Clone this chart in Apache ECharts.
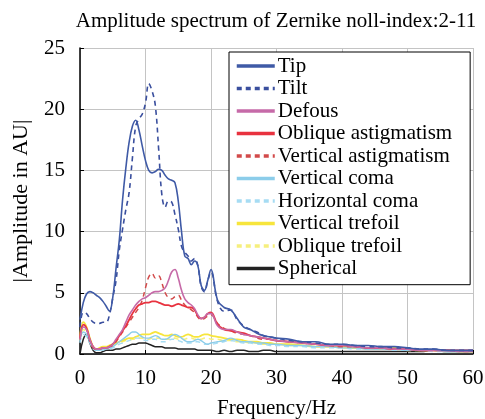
<!DOCTYPE html>
<html>
<head>
<meta charset="utf-8">
<script src="https://cdn.jsdelivr.net/npm/echarts@6/dist/echarts.min.js"></script>
<style>
html,body{margin:0;padding:0;background:#fff;}
#chart{width:485px;height:419px;}
</style>
</head>
<body>
<div id="chart"></div>
<script>
// 频率轴 (Hz)
var freq = [0,0.5,1,1.5,2,2.5,3,3.5,4,4.5,5,5.5,6,6.5,7,7.5,8,8.5,9,9.5,10,10.5,11,11.5,12,12.5,13,13.5,14,14.5,15,15.5,16,16.5,17,17.5,18,18.5,19,19.5,20,
	21,22,23,24,25,26,27,28,29,30,
	32,34,36,38,40,42,44,46,48,50,52,54,56,58,60];

var tip = [2.8,4.2,4.9,5.1,5.0,4.8,4.6,4.3,3.9,3.5,4.6,7.0,9.3,12.6,15.2,17.3,18.6,19.1,18.3,17.0,15.8,15.0,14.8,14.9,15.1,15.0,14.6,14.3,14.2,14.0,12.5,10.0,8.0,7.8,7.3,7.6,7.2,5.6,5.2,6.0,6.9,
	4.4,3.8,3.6,2.9,2.2,2.0,1.7,1.5,1.4,1.3,
	1.2,1.0,1.0,0.8,0.8,0.7,0.7,0.6,0.6,0.5,0.4,0.4,0.3,0.3,0.3];
var tilt = [2.2,3.4,3.3,2.9,2.6,2.5,2.5,2.6,2.6,3.2,4.6,6.0,8.5,10.2,11.8,13.2,16.0,18.6,19.2,19.6,20.5,22.1,21.5,20.3,16.8,13.0,12.0,12.5,12.4,11.4,10.2,8.8,8.3,8.0,7.6,7.8,7.2,5.5,5.1,6.0,6.7,
	4.3,3.5,3.6,2.8,2.3,2.0,1.8,1.5,1.4,1.3,
	1.1,1.0,0.9,0.8,0.8,0.7,0.6,0.6,0.5,0.5,0.4,0.4,0.3,0.3,0.3];
var defous = [1.2,2.2,2.0,1.2,0.6,0.4,0.4,0.5,0.5,0.6,0.8,1.2,1.6,2.0,2.6,3.2,3.6,4.0,4.3,4.5,4.6,4.8,5.0,5.1,5.1,5.2,5.4,6.0,6.7,6.9,6.2,5.2,4.5,4.2,4.0,3.7,3.2,2.9,3.0,3.3,3.3,
	2.3,2.0,2.0,1.8,1.6,1.5,1.4,1.3,1.2,1.1,
	1.0,0.9,0.8,0.7,0.7,0.6,0.5,0.5,0.4,0.4,0.3,0.3,0.3,0.2,0.2];
var obliqueAstig = [1.3,2.4,2.1,1.2,0.6,0.4,0.4,0.5,0.5,0.6,0.8,1.1,1.5,1.9,2.3,2.8,3.3,3.7,4.0,4.1,4.2,4.2,4.3,4.3,4.2,4.1,4.0,4.0,3.9,4.0,4.1,4.0,3.9,3.8,3.8,3.6,3.1,2.9,3.0,3.3,3.4,
	2.4,2.0,1.9,1.8,1.7,1.5,1.4,1.3,1.2,1.1,
	1.0,0.9,0.8,0.7,0.7,0.6,0.5,0.5,0.4,0.4,0.3,0.3,0.3,0.3,0.3];
var verticalAstig = [1.2,2.3,2.0,1.1,0.5,0.4,0.4,0.5,0.5,0.6,0.7,1.0,1.4,1.8,2.2,2.6,3.0,3.4,3.8,4.4,5.4,6.3,6.6,6.2,6.4,5.8,5.0,4.6,4.5,4.7,4.8,4.4,4.0,3.8,3.6,3.4,3.0,2.8,2.9,3.1,3.2,
	2.5,2.1,1.9,1.7,1.6,1.5,1.3,1.2,1.2,1.1,
	1.0,0.9,0.8,0.7,0.6,0.6,0.5,0.5,0.4,0.4,0.3,0.3,0.3,0.2,0.2];
var verticalComa = [1.0,1.8,1.6,1.0,0.5,0.3,0.3,0.4,0.4,0.5,0.6,0.8,1.0,1.2,1.4,1.6,1.8,1.8,1.6,1.4,1.3,1.3,1.4,1.5,1.4,1.2,1.2,1.3,1.5,1.6,1.5,1.3,1.1,1.0,1.0,1.1,1.2,1.1,0.9,0.8,0.9,
	1.0,1.1,1.3,1.1,1.0,1.0,0.9,0.9,0.8,0.8,
	0.7,0.7,0.6,0.6,0.5,0.5,0.4,0.4,0.4,0.3,0.3,0.3,0.2,0.2,0.2];
var horizontalComa = [0.9,1.6,1.4,0.9,0.4,0.3,0.3,0.3,0.4,0.4,0.5,0.6,0.8,0.9,1.0,1.1,1.2,1.3,1.3,1.2,1.1,1.1,1.2,1.2,1.1,1.0,1.0,1.1,1.2,1.2,1.1,1.0,0.9,0.9,0.9,1.0,1.0,0.9,0.8,0.8,0.8,
	0.9,1.0,1.1,1.0,0.9,0.9,0.8,0.8,0.7,0.7,
	0.6,0.6,0.5,0.5,0.5,0.4,0.4,0.4,0.3,0.3,0.3,0.2,0.2,0.2,0.2];
var verticalTrefoil = [1.4,2.6,2.2,1.3,0.6,0.4,0.5,0.6,0.6,0.7,0.8,0.9,1.0,1.1,1.2,1.3,1.3,1.4,1.5,1.6,1.6,1.6,1.7,1.8,1.7,1.6,1.5,1.5,1.6,1.5,1.4,1.4,1.5,1.6,1.5,1.4,1.4,1.5,1.6,1.6,1.5,
	1.4,1.3,1.2,1.2,1.1,1.0,1.0,0.9,0.9,0.8,
	0.8,0.7,0.6,0.6,0.6,0.5,0.5,0.4,0.5,0.4,0.3,0.3,0.3,0.2,0.2];
var obliqueTrefoil = [1.1,2.0,1.8,1.1,0.5,0.4,0.4,0.5,0.5,0.6,0.7,0.8,0.9,1.0,1.1,1.1,1.2,1.2,1.3,1.3,1.2,1.2,1.3,1.3,1.3,1.2,1.2,1.2,1.3,1.3,1.2,1.2,1.2,1.3,1.3,1.2,1.2,1.2,1.3,1.3,1.2,
	1.2,1.1,1.1,1.0,1.0,0.9,0.9,0.8,0.8,0.8,
	0.7,0.7,0.6,0.6,0.5,0.5,0.4,0.4,0.4,0.3,0.3,0.3,0.2,0.2,0.2];
var spherical = [0.0,1.2,1.6,0.9,0.3,0.1,0.1,0.2,0.3,0.3,0.3,0.4,0.4,0.5,0.6,0.7,0.8,0.8,0.9,0.9,0.9,0.8,0.7,0.6,0.6,0.6,0.5,0.5,0.5,0.5,0.4,0.4,0.4,0.4,0.4,0.4,0.3,0.3,0.3,0.3,0.3,
	0.2,0.3,0.2,0.3,0.3,0.2,0.2,0.3,0.3,0.2,
	0.2,0.2,0.2,0.2,0.2,0.2,0.2,0.2,0.2,0.2,0.2,0.3,0.2,0.2,0.2];

var names = ['Tip','Tilt','Defous','Oblique astigmatism','Vertical astigmatism','Vertical coma','Horizontal coma','Vertical trefoil','Oblique trefoil','Spherical'];
var values = [tip,tilt,defous,obliqueAstig,verticalAstig,verticalComa,horizontalComa,verticalTrefoil,obliqueTrefoil,spherical];
var colors = ['#3f5aa6','#3a4f9e','#c66aa8','#e8323f','#d24a4a','#8ccdea','#a6dcf3','#f7e53c','#f6ef7e','#222222'];
var dashed = [false,true,false,false,true,false,true,false,true,false];
var widths = [1.6,1.6,1.6,1.8,1.5,1.4,1.4,1.8,1.6,1.5];

var font = 'Liberation Serif';

function pairs(v){
	var out = [];
	for(var i=0;i<freq.length;i++){
		out.push([freq[i], v[i]]);
	}
	return out;
}

var series = [];
for(var i=values.length-1;i>=0;i--){
	series.push({
		name: names[i],
		type: 'line',
		data: pairs(values[i]),
		symbol: 'none',
		smooth: 0.4,
		z: 2 + (i < 2 ? 10 : 0),
		lineStyle: {color: colors[i], width: widths[i], type: dashed[i] ? [5,4] : 'solid'},
		itemStyle: {color: colors[i]}
	});
}

var myChart = echarts.init(document.getElementById('chart'));
var option = {
	backgroundColor: '#fff',
	animation: false,
	title: {
		text: 'Amplitude spectrum of Zernike noll-index:2-11',
		left: 271,
		textAlign: 'center',
		top: 6,
		textStyle: {fontFamily: font, fontSize: 21, fontWeight: 'normal', color: '#000'}
	},
	legend: {
		data: names,
		orient: 'vertical',
		left: 229,
		top: 52,
		padding: [3, 18, 5, 6],
		itemWidth: 38,
		itemHeight: 14,
		itemGap: 0.3,
		backgroundColor: '#fff',
		borderColor: '#000',
		borderWidth: 1,
		itemStyle: {opacity: 0},
		lineStyle: {width: 3.5},
		textStyle: {fontFamily: font, fontSize: 21, lineHeight: 22.2, color: '#000', padding: [0, 0, 0, -2]}
	},
	grid: {left: 80, right: 12, top: 48, bottom: 65, outerBoundsMode: 'none'},
	xAxis: {
		type: 'value',
		min: 0, max: 60, interval: 10,
		name: 'Frequency/Hz',
		nameLocation: 'middle',
		nameGap: 44,
		nameTextStyle: {fontFamily: font, fontSize: 21, color: '#000'},
		axisLine: {lineStyle: {color: '#000', width: 1.5}},
		axisTick: {inside: true, length: 4, lineStyle: {color: '#000'}},
		axisLabel: {fontFamily: font, fontSize: 21, color: '#000', margin: 14},
		splitLine: {show: true, lineStyle: {color: '#c4c4c4', width: 1}}
	},
	yAxis: {
		type: 'value',
		min: 0, max: 25, interval: 5,
		name: '|Amplitude in AU|',
		nameLocation: 'middle',
		nameGap: 48,
		nameTextStyle: {fontFamily: font, fontSize: 22, color: '#000'},
		axisLine: {show: true, lineStyle: {color: '#000', width: 1.5}},
		axisTick: {show: true, inside: true, length: 4, lineStyle: {color: '#000'}},
		axisLabel: {fontFamily: font, fontSize: 21, color: '#000', margin: 15},
		splitLine: {show: true, lineStyle: {color: '#c4c4c4', width: 1}}
	},
	series: series
};
myChart.setOption(option);
</script>
</body>
</html>
